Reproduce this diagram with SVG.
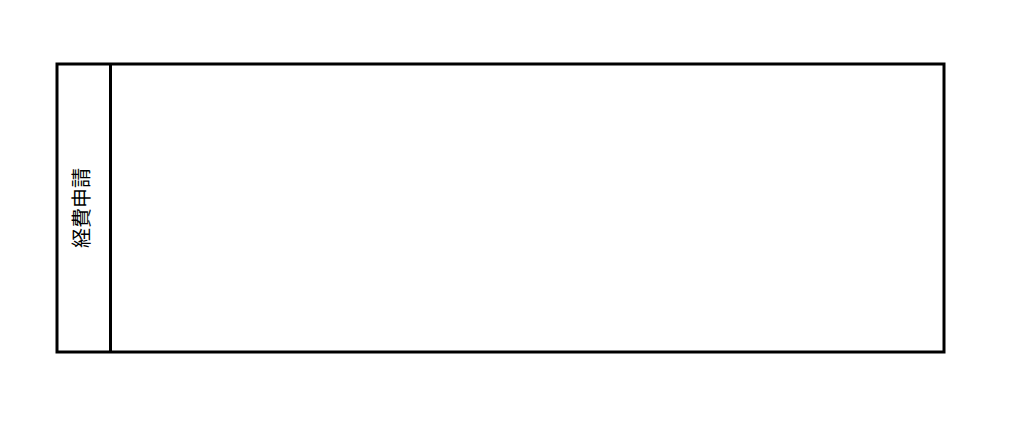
<svg xmlns="http://www.w3.org/2000/svg" width="1024" height="447" viewBox="0 0 1024 447">
<style>
.b{fill:#fff;stroke:#000;stroke-width:3}
.t{font-family:"Liberation Sans","Noto Sans CJK JP",sans-serif;font-size:20px;fill:#000}
</style>
<rect width="1024" height="447" fill="#fff"/>
<g id="pool">
<rect class="b" x="57" y="64" width="887" height="288"/>
<line x1="110.5" y1="64" x2="110.5" y2="352" stroke="#000" stroke-width="3"/>
<text class="t" x="0" y="0" text-anchor="middle" dominant-baseline="central" transform="translate(81.5,208) rotate(-90)">経費申請</text>
</g>
<g id="connectors"></g>
</svg>
